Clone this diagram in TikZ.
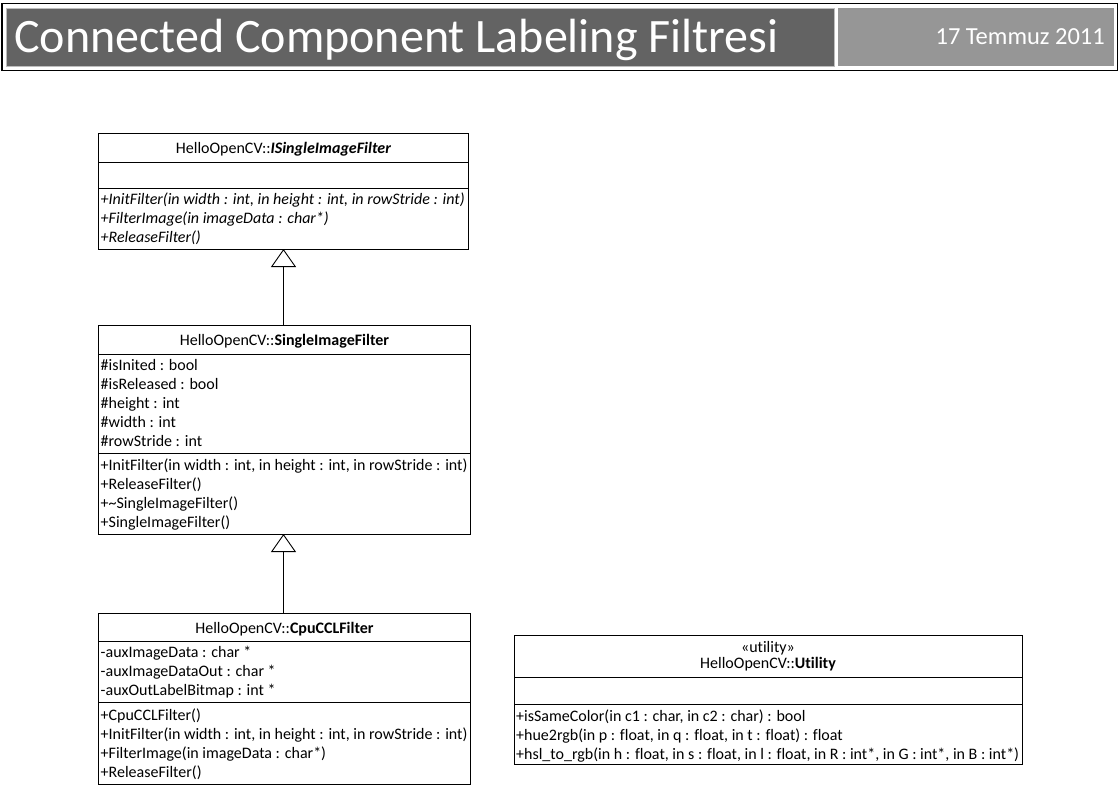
\documentclass[tikz,border=0pt]{standalone}
\usepackage{fontspec}
\setmainfont{Carlito}[Ligatures={NoCommon}]
\usetikzlibrary{arrows.meta}
\definecolor{hdark}{HTML}{636363}
\definecolor{hlight}{HTML}{969696}
\definecolor{hedge}{HTML}{BDBDBD}
\begin{document}
\begin{tikzpicture}[x=1pt,y=-1pt,
  umlbox/.style={draw, line width=0.9pt, anchor=north west, inner sep=0pt, outer sep=0pt},
  sepline/.style={line width=0.9pt},
  txt/.style={anchor=base west, inner sep=0pt, font=\fontsize{16}{19}\selectfont},
  ttl/.style={anchor=base, inner sep=0pt, font=\fontsize{16}{19}\selectfont},
  inherit/.style={line width=0.9pt, -{Triangle[open, length=18pt, width=25pt, line width=0.9pt]}}
]
\useasboundingbox (0,0) rectangle (1120,785);
\fill[white] (0,0) rectangle (1120,785);
% header
\node[draw=black, line width=1.2pt, anchor=north west, inner sep=0pt, minimum width=1115pt, minimum height=67.5pt] (frame) at (1.5,2.5) {};
\node[fill=hdark, draw=hedge, line width=0.8pt, anchor=north west, inner sep=0pt, minimum width=828pt, minimum height=58pt] (titlebar) at (6,8) {};
\node[fill=hlight, anchor=north west, inner sep=0pt, minimum width=276pt, minimum height=58pt] (datebar) at (838,8) {};
\node[text=white, anchor=base west, inner sep=0pt, font=\fontsize{48}{52}\selectfont] (title) at (14,52) {Connected Component Labeling Filtresi};
\node[text=white, anchor=base east, inner sep=0pt, font=\fontsize{24.5}{28}\selectfont] (date) at (1105,44.5) {17 Temmuz 2011};

% class 1
\node[umlbox, minimum width=370pt, minimum height=116pt] (c1) at (98.5,133) {};
\draw[sepline] ([yshift=-29pt]c1.north west) -- ([yshift=-29pt]c1.north east);
\draw[sepline] ([yshift=-55pt]c1.north west) -- ([yshift=-55pt]c1.north east);
\node[ttl] (c1t) at ([yshift=-20pt]c1.north) {HelloOpenCV::\textbf{\textit{ISingleImageFilter}}};
\node[txt] (c1o1) at (100.5,204) {\textit{+InitFilter(in width : int, in height : int, in rowStride : int)}};
\node[txt] (c1o2) at (100.5,223) {\textit{+FilterImage(in imageData : char*)}};
\node[txt] (c1o3) at (100.5,242) {\textit{+ReleaseFilter()}};

% class 2
\node[umlbox, minimum width=372pt, minimum height=209pt] (c2) at (98.5,325) {};
\draw[sepline] ([yshift=-29pt]c2.north west) -- ([yshift=-29pt]c2.north east);
\draw[sepline] ([yshift=-128pt]c2.north west) -- ([yshift=-128pt]c2.north east);
\node[ttl] (c2t) at ([yshift=-20pt]c2.north) {HelloOpenCV::\textbf{SingleImageFilter}};
\node[txt] (c2a1) at (100.5,370) {\#isInited : bool};
\node[txt] (c2a2) at (100.5,389) {\#isReleased : bool};
\node[txt] (c2a3) at (100.5,408) {\#height : int};
\node[txt] (c2a4) at (100.5,427) {\#width : int};
\node[txt] (c2a5) at (100.5,446) {\#rowStride : int};
\node[txt] (c2o1) at (100.5,470) {+InitFilter(in width : int, in height : int, in rowStride : int)};
\node[txt] (c2o2) at (100.5,489) {+ReleaseFilter()};
\node[txt] (c2o3) at (100.5,508) {+\textasciitilde SingleImageFilter()};
\node[txt] (c2o4) at (100.5,527) {+SingleImageFilter()};

% class 3
\node[umlbox, minimum width=372pt, minimum height=171pt] (c3) at (98.5,613) {};
\draw[sepline] ([yshift=-28pt]c3.north west) -- ([yshift=-28pt]c3.north east);
\draw[sepline] ([yshift=-89pt]c3.north west) -- ([yshift=-89pt]c3.north east);
\node[ttl] (c3t) at ([yshift=-20pt]c3.north) {HelloOpenCV::\textbf{CpuCCLFilter}};
\node[txt] (c3a1) at (100.5,657) {-auxImageData : char *};
\node[txt] (c3a2) at (100.5,676) {-auxImageDataOut : char *};
\node[txt] (c3a3) at (100.5,695) {-auxOutLabelBitmap : int *};
\node[txt] (c3o1) at (100.5,720) {+CpuCCLFilter()};
\node[txt] (c3o2) at (100.5,739) {+InitFilter(in width : int, in height : int, in rowStride : int)};
\node[txt] (c3o3) at (100.5,758) {+FilterImage(in imageData : char*)};
\node[txt] (c3o4) at (100.5,777) {+ReleaseFilter()};

% class 4
\node[umlbox, minimum width=508pt, minimum height=129pt] (c4) at (514,635) {};
\draw[sepline] ([yshift=-42pt]c4.north west) -- ([yshift=-42pt]c4.north east);
\draw[sepline] ([yshift=-69pt]c4.north west) -- ([yshift=-69pt]c4.north east);
\node[ttl] (c4s) at ([yshift=-17pt]c4.north) {«utility»};
\node[ttl] (c4t) at ([yshift=-33pt]c4.north) {HelloOpenCV::\textbf{Utility}};
\node[txt] (c4o1) at (516,721) {+isSameColor(in c1 : char, in c2 : char) : bool};
\node[txt] (c4o2) at (516,740) {+hue2rgb(in p : float, in q : float, in t : float) : float};
\node[txt] (c4o3) at (516,759) {+hsl\_to\_rgb(in h : float, in s : float, in l : float, in R : int*, in G : int*, in B : int*)};

% generalizations
\draw[inherit] (c2.north -| c1.south) -- (c1.south);
\draw[inherit] (c3.north -| c1.south) -- (c2.south -| c1.south);
\end{tikzpicture}
\end{document}
